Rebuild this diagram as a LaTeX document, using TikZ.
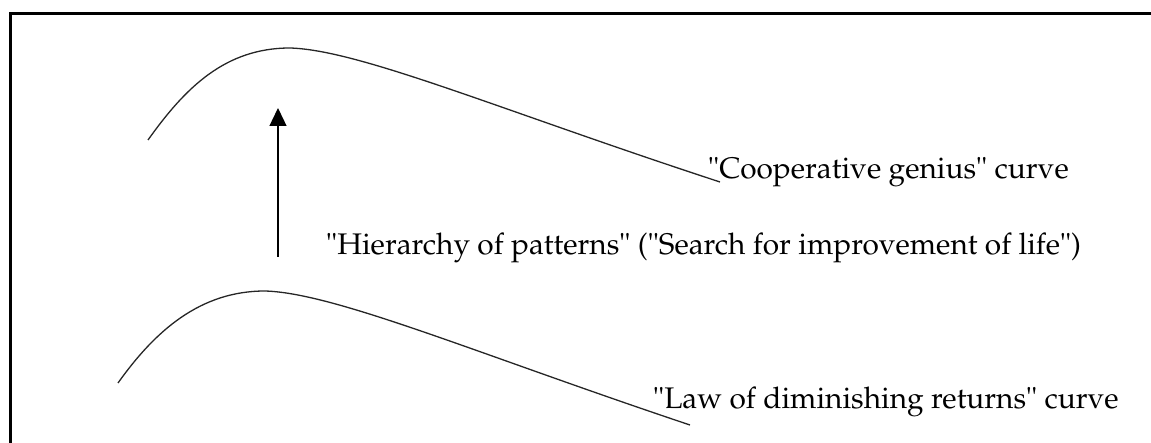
\documentclass[tikz,border=0pt]{standalone}
\usepackage[T1]{fontenc}
\usetikzlibrary{arrows.meta}
\tikzset{
  curveline/.style={line width=1.3pt, draw=black!85},
  label/.style={anchor=base west, inner sep=0pt, font=\fontfamily{ppl}\fontsize{29.8}{35}\selectfont},
  uparrow/.style={line width=1.3pt, -{Triangle[length=18pt,width=17pt]}},
}
\begin{document}
\begin{tikzpicture}[x=1pt,y=-1pt]
  \useasboundingbox (0,0) rectangle (1151,443);
  \clip (0,0) rectangle (1151,443);
  % frame: top and left sides; the rest runs off the page
  \coordinate (ftr) at (1160,14);
  \coordinate (ftl) at (10,14);
  \coordinate (fbl) at (10,460);
  \draw[line width=3pt, line join=miter] (ftr) -- (ftl) -- (fbl);

  % upper curve
  \draw[curveline] (148,140) .. controls (185,88) and (225,48) .. (290,48)
        .. controls (360,50) and (500,110) .. (720,182);
  % lower curve
  \draw[curveline] (118,383) .. controls (155,331) and (200,291) .. (265,291)
        .. controls (335,293) and (475,353) .. (690,425);

  \coordinate (abot) at (278,257);
  \coordinate (atop) at (278,108);
  \draw[uparrow] (abot) -- (atop);

  \node[label] (coop) at (708,179) {"Cooperative genius" curve};
  \node[label] (hier) at (326,255) {"Hierarchy of patterns" ("Search for improvement of life")};
  \node[label] (law) at (653,408) {"Law of diminishing returns" curve};
\end{tikzpicture}
\end{document}
